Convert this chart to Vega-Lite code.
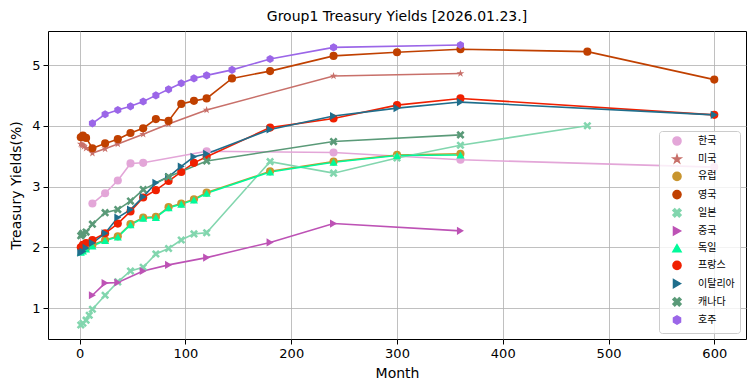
{
  "$schema": "https://vega.github.io/schema/vega-lite/v6.json",
  "autosize": "none",
  "width": 698,
  "height": 308,
  "padding": {"left": 48, "top": 31, "right": 9, "bottom": 52},
  "background": "white",
  "title": {"text": "Group1 Treasury Yields [2026.01.23.]", "font": "DejaVu Sans", "fontSize": 14, "fontWeight": "normal", "color": "black", "offset": 7},
  "config": {
    "view": {"stroke": "black", "strokeWidth": 1},
    "axis": {"labelFont": "DejaVu Sans", "labelFontSize": 13, "labelColor": "black", "titleFont": "DejaVu Sans", "titleFontSize": 14, "titleFontWeight": "normal", "titleColor": "black", "gridColor": "#b0b0b0", "gridWidth": 0.8, "tickColor": "black", "tickSize": 5, "domain": false, "labelPadding": 3}
  },
  "data": {"values": [
    {"c":"한국","m":12,"y":2.72},{"c":"한국","m":24,"y":2.89},{"c":"한국","m":36,"y":3.10},{"c":"한국","m":48,"y":3.38},{"c":"한국","m":60,"y":3.39},{"c":"한국","m":120,"y":3.58},{"c":"한국","m":240,"y":3.56},{"c":"한국","m":360,"y":3.44},{"c":"한국","m":600,"y":3.32},
    {"c":"미국","m":1,"y":3.70},{"c":"미국","m":2,"y":3.69},{"c":"미국","m":3,"y":3.68},{"c":"미국","m":4,"y":3.66},{"c":"미국","m":6,"y":3.63},{"c":"미국","m":12,"y":3.55},{"c":"미국","m":24,"y":3.62},{"c":"미국","m":36,"y":3.70},{"c":"미국","m":60,"y":3.86},{"c":"미국","m":84,"y":4.03},{"c":"미국","m":120,"y":4.26},{"c":"미국","m":240,"y":4.82},{"c":"미국","m":360,"y":4.86},
    {"c":"유럽","m":3,"y":1.96},{"c":"유럽","m":6,"y":1.99},{"c":"유럽","m":12,"y":2.04},{"c":"유럽","m":24,"y":2.12},{"c":"유럽","m":36,"y":2.18},{"c":"유럽","m":48,"y":2.38},{"c":"유럽","m":60,"y":2.49},{"c":"유럽","m":72,"y":2.50},{"c":"유럽","m":84,"y":2.66},{"c":"유럽","m":96,"y":2.72},{"c":"유럽","m":108,"y":2.79},{"c":"유럽","m":120,"y":2.90},{"c":"유럽","m":180,"y":3.25},{"c":"유럽","m":240,"y":3.41},{"c":"유럽","m":300,"y":3.52},{"c":"유럽","m":360,"y":3.54},
    {"c":"영국","m":1,"y":3.81},{"c":"영국","m":3,"y":3.84},{"c":"영국","m":6,"y":3.80},{"c":"영국","m":12,"y":3.63},{"c":"영국","m":24,"y":3.71},{"c":"영국","m":36,"y":3.78},{"c":"영국","m":48,"y":3.88},{"c":"영국","m":60,"y":3.96},{"c":"영국","m":72,"y":4.11},{"c":"영국","m":84,"y":4.08},{"c":"영국","m":96,"y":4.36},{"c":"영국","m":108,"y":4.41},{"c":"영국","m":120,"y":4.45},{"c":"영국","m":144,"y":4.78},{"c":"영국","m":180,"y":4.90},{"c":"영국","m":240,"y":5.15},{"c":"영국","m":300,"y":5.21},{"c":"영국","m":360,"y":5.26},{"c":"영국","m":480,"y":5.22},{"c":"영국","m":600,"y":4.76},
    {"c":"일본","m":1,"y":0.72},{"c":"일본","m":3,"y":0.75},{"c":"일본","m":6,"y":0.80},{"c":"일본","m":9,"y":0.88},{"c":"일본","m":12,"y":0.98},{"c":"일본","m":24,"y":1.21},{"c":"일본","m":36,"y":1.43},{"c":"일본","m":48,"y":1.61},{"c":"일본","m":60,"y":1.67},{"c":"일본","m":72,"y":1.89},{"c":"일본","m":84,"y":1.98},{"c":"일본","m":96,"y":2.12},{"c":"일본","m":108,"y":2.22},{"c":"일본","m":120,"y":2.24},{"c":"일본","m":180,"y":3.41},{"c":"일본","m":240,"y":3.22},{"c":"일본","m":300,"y":3.47},{"c":"일본","m":360,"y":3.68},{"c":"일본","m":480,"y":4.00},
    {"c":"중국","m":12,"y":1.21},{"c":"중국","m":24,"y":1.41},{"c":"중국","m":36,"y":1.42},{"c":"중국","m":60,"y":1.61},{"c":"중국","m":84,"y":1.71},{"c":"중국","m":120,"y":1.83},{"c":"중국","m":180,"y":2.08},{"c":"중국","m":240,"y":2.39},{"c":"중국","m":360,"y":2.27},
    {"c":"독일","m":1,"y":1.92},{"c":"독일","m":3,"y":1.94},{"c":"독일","m":6,"y":1.97},{"c":"독일","m":12,"y":2.02},{"c":"독일","m":24,"y":2.11},{"c":"독일","m":36,"y":2.17},{"c":"독일","m":48,"y":2.37},{"c":"독일","m":60,"y":2.48},{"c":"독일","m":72,"y":2.49},{"c":"독일","m":84,"y":2.65},{"c":"독일","m":96,"y":2.71},{"c":"독일","m":108,"y":2.78},{"c":"독일","m":120,"y":2.89},{"c":"독일","m":180,"y":3.24},{"c":"독일","m":240,"y":3.40},{"c":"독일","m":300,"y":3.51},{"c":"독일","m":360,"y":3.52},
    {"c":"프랑스","m":1,"y":2.00},{"c":"프랑스","m":3,"y":2.04},{"c":"프랑스","m":6,"y":2.07},{"c":"프랑스","m":12,"y":2.12},{"c":"프랑스","m":24,"y":2.23},{"c":"프랑스","m":36,"y":2.39},{"c":"프랑스","m":48,"y":2.59},{"c":"프랑스","m":60,"y":2.82},{"c":"프랑스","m":72,"y":2.94},{"c":"프랑스","m":84,"y":3.09},{"c":"프랑스","m":96,"y":3.24},{"c":"프랑스","m":108,"y":3.39},{"c":"프랑스","m":120,"y":3.49},{"c":"프랑스","m":180,"y":3.97},{"c":"프랑스","m":240,"y":4.12},{"c":"프랑스","m":300,"y":4.34},{"c":"프랑스","m":360,"y":4.45},{"c":"프랑스","m":600,"y":4.18},
    {"c":"이탈리아","m":1,"y":1.91},{"c":"이탈리아","m":3,"y":1.93},{"c":"이탈리아","m":6,"y":1.99},{"c":"이탈리아","m":12,"y":2.07},{"c":"이탈리아","m":24,"y":2.23},{"c":"이탈리아","m":36,"y":2.49},{"c":"이탈리아","m":48,"y":2.62},{"c":"이탈리아","m":60,"y":2.83},{"c":"이탈리아","m":72,"y":3.06},{"c":"이탈리아","m":84,"y":3.16},{"c":"이탈리아","m":96,"y":3.33},{"c":"이탈리아","m":108,"y":3.49},{"c":"이탈리아","m":120,"y":3.54},{"c":"이탈리아","m":180,"y":3.94},{"c":"이탈리아","m":240,"y":4.16},{"c":"이탈리아","m":300,"y":4.29},{"c":"이탈리아","m":360,"y":4.39},{"c":"이탈리아","m":600,"y":4.18},
    {"c":"캐나다","m":1,"y":2.19},{"c":"캐나다","m":2,"y":2.21},{"c":"캐나다","m":3,"y":2.23},{"c":"캐나다","m":6,"y":2.25},{"c":"캐나다","m":12,"y":2.38},{"c":"캐나다","m":24,"y":2.57},{"c":"캐나다","m":36,"y":2.62},{"c":"캐나다","m":48,"y":2.76},{"c":"캐나다","m":60,"y":2.95},{"c":"캐나다","m":84,"y":3.16},{"c":"캐나다","m":120,"y":3.42},{"c":"캐나다","m":240,"y":3.74},{"c":"캐나다","m":360,"y":3.85},
    {"c":"호주","m":12,"y":4.04},{"c":"호주","m":24,"y":4.19},{"c":"호주","m":36,"y":4.26},{"c":"호주","m":48,"y":4.32},{"c":"호주","m":60,"y":4.40},{"c":"호주","m":72,"y":4.50},{"c":"호주","m":84,"y":4.60},{"c":"호주","m":96,"y":4.70},{"c":"호주","m":108,"y":4.78},{"c":"호주","m":120,"y":4.83},{"c":"호주","m":144,"y":4.92},{"c":"호주","m":180,"y":5.10},{"c":"호주","m":240,"y":5.29},{"c":"호주","m":360,"y":5.33}
  ]},
  "encoding": {
    "x": {"field": "m", "type": "quantitative", "title": "Month", "scale": {"domain": [-30, 630], "nice": false, "zero": false}, "axis": {"values": [0, 100, 200, 300, 400, 500, 600], "titlePadding": 6}},
    "y": {"field": "y", "type": "quantitative", "title": "Treasury Yields(%)", "scale": {"domain": [0.49, 5.56], "nice": false, "zero": false}, "axis": {"values": [1, 2, 3, 4, 5], "titlePadding": 8}},
    "color": {"field": "c", "type": "nominal", "title": null,
      "scale": {"domain": ["한국","미국","유럽","영국","일본","중국","독일","프랑스","이탈리아","캐나다","호주"],
                "range": ["#e3a6d8","#c8706a","#c8952f","#c04000","#82d6ae","#bd52b5","#00fa9a","#f02000","#1f6e8c","#5a9a78","#9b66e8"]}}
  },
  "layer": [
    {"mark": {"type": "line", "strokeWidth": 1.6}, "encoding": {"detail": {"field": "c"}}},
    {"mark": {"type": "point", "filled": true, "opacity": 1, "size": 66},
     "encoding": {"shape": {"field": "c", "type": "nominal", "title": null,
       "scale": {"domain": ["한국","미국","유럽","영국","일본","중국","독일","프랑스","이탈리아","캐나다","호주"],
                 "range": ["circle","M0,-1L0.225,-0.309L0.951,-0.309L0.363,0.118L0.588,0.809L0,0.382L-0.588,0.809L-0.363,0.118L-0.951,-0.309L-0.225,-0.309Z","circle","circle","M-1,-0.55L-0.55,-1L0,-0.45L0.55,-1L1,-0.55L0.45,0L1,0.55L0.55,1L0,0.45L-0.55,1L-1,0.55L-0.45,0Z","triangle-right","triangle-up","circle","triangle-right","M-1,-0.55L-0.55,-1L0,-0.45L0.55,-1L1,-0.55L0.45,0L1,0.55L0.55,1L0,0.45L-0.55,1L-1,0.55L-0.45,0Z","M0,-1L0.866,-0.5L0.866,0.5L0,1L-0.866,0.5L-0.866,-0.5Z"]},
       "legend": {"orient": "bottom-right", "offset": 6, "labelFont": "Noto Sans CJK KR", "labelFontSize": 10, "labelColor": "black", "symbolSize": 66, "rowPadding": 2.2, "padding": 5, "strokeColor": "#cccccc", "fillColor": "rgba(255,255,255,0.8)", "cornerRadius": 3, "symbolOpacity": 1, "labelOffset": 16, "symbolOffset": 8}}}}
  ]
}
